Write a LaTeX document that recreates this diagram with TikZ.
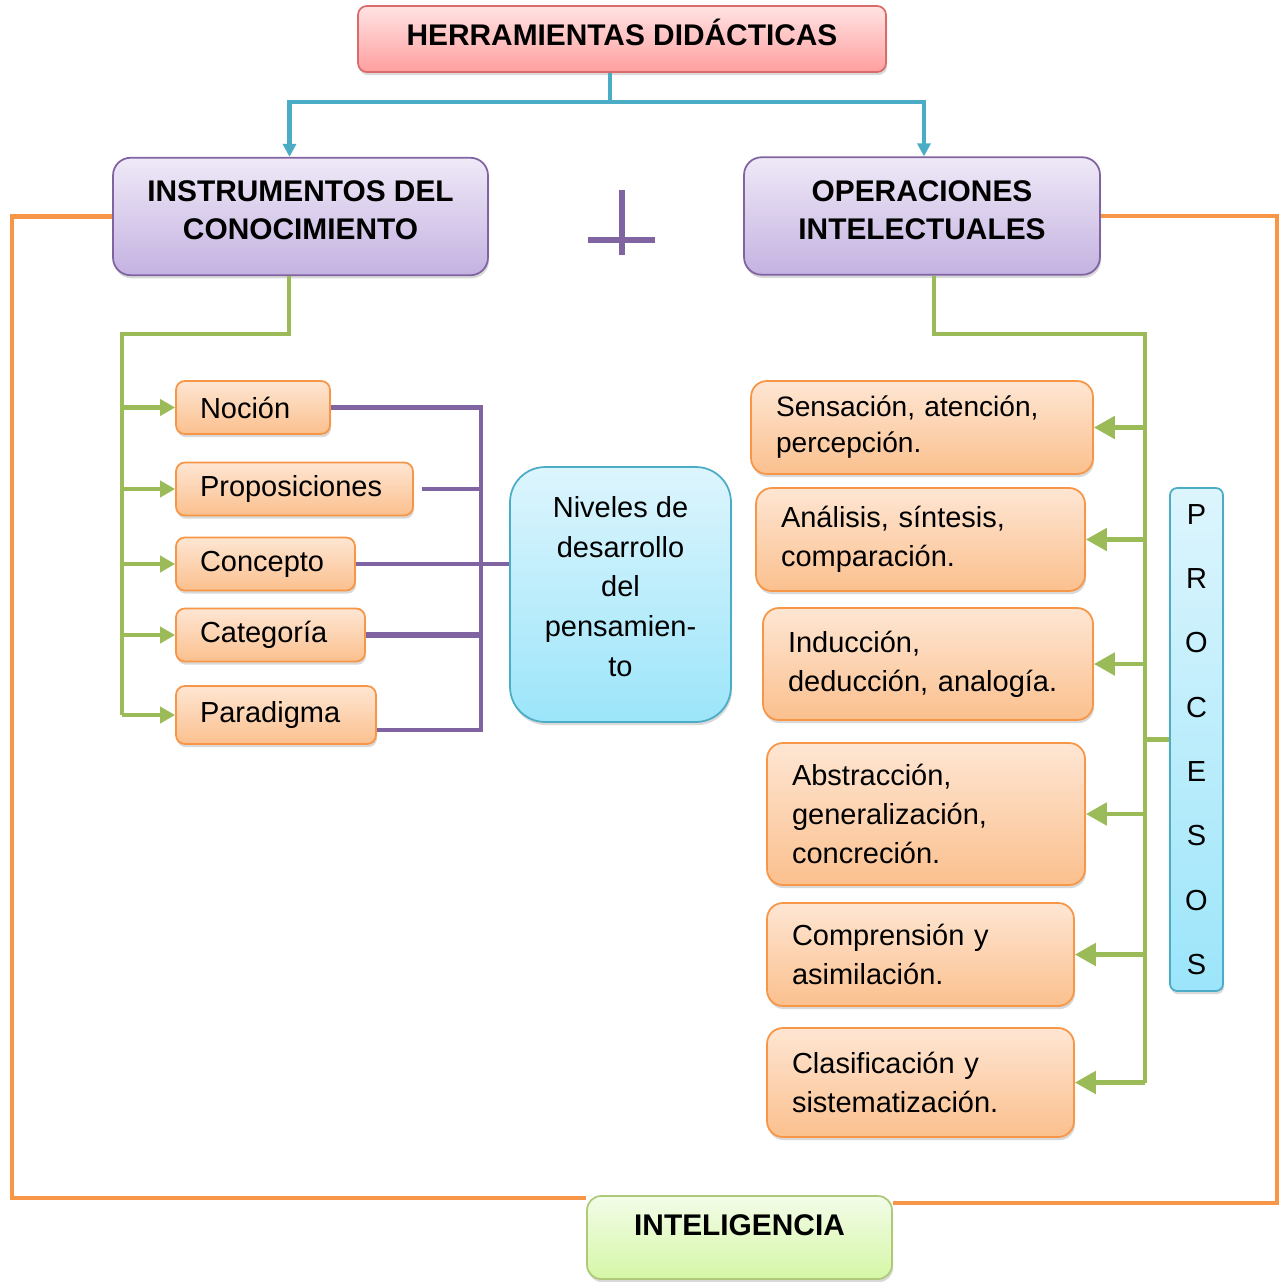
\documentclass[tikz,border=0pt]{standalone}
\usepackage{fontspec}
\setmainfont{Liberation Sans}
\usepackage{tikz}
\usetikzlibrary{arrows.meta, positioning, shadows}
\definecolor{orline}{HTML}{F79646}
\definecolor{ortop}{HTML}{FEE6D3}
\definecolor{orbot}{HTML}{FBC08E}
\definecolor{purline}{HTML}{8064A2}
\definecolor{purtop}{HTML}{EFE9F7}
\definecolor{purbot}{HTML}{C4B2E1}
\definecolor{redline}{HTML}{D96B6B}
\definecolor{redtop}{HTML}{FFE3E3}
\definecolor{redbot}{HTML}{FF9F9F}
\definecolor{bluline}{HTML}{4BACC6}
\definecolor{cyantop}{HTML}{DDF5FD}
\definecolor{cyanbot}{HTML}{9CE5FA}
\definecolor{grnline}{HTML}{9BBB59}
\definecolor{limetop}{HTML}{F3FCE8}
\definecolor{limebot}{HTML}{D5F7A6}

\begin{document}
\begin{tikzpicture}[x=0.02cm, y=-0.02cm,
    base/.style={rectangle, draw, line width=1pt, font=\fontsize{16.5}{22}\selectfont,
                 drop shadow={shadow xshift=0.6pt, shadow yshift=-1.8pt, opacity=0.3}},
    obox/.style={base, rounded corners=5pt, draw=orline, top color=ortop, bottom color=orbot,
                 align=left, inner xsep=0.48cm, minimum height=1.06cm},
    rbox/.style={obox, rounded corners=9pt, inner xsep=0.5cm},
    pbox/.style={base, rounded corners=10pt, draw=purline, top color=purtop, bottom color=purbot,
                 minimum height=2.35cm, align=center, font=\fontsize{17}{21.6}\selectfont\bfseries},
    hbox/.style={base, rounded corners=5pt, draw=redline, top color=redtop, bottom color=redbot,
                 minimum width=10.56cm, minimum height=1.32cm, text depth=0.25cm,
                 font=\fontsize{17}{20}\selectfont\bfseries},
    cbox/.style={base, draw=bluline, top color=cyantop, bottom color=cyanbot, align=center},
    gbox/.style={base, rounded corners=8pt, draw=grnline!80, top color=limetop, bottom color=limebot,
                 minimum width=6.1cm, minimum height=1.66cm, text depth=0.5cm,
                 font=\fontsize{17}{20}\selectfont\bfseries},
    barr/.style={-{Triangle[length=0.26cm, width=0.26cm]}, line width=2.3pt, bluline},
    grn/.style={line width=2.6pt, grnline},
    garr/.style={grn, -{Triangle[length=0.3cm, width=0.32cm]}},
    rarr/.style={grn, line width=2.8pt, -{Triangle[length=0.42cm, width=0.44cm]}},
    prp/.style={line width=2.4pt, purline},
    frm/.style={line width=2.8pt, orline}
]
\useasboundingbox (0,0) rectangle (1287,1281);

% top and the two branches
\node[hbox] (top) at (622,39) {HERRAMIENTAS DIDÁCTICAS};
\node[pbox, minimum width=7.5cm] (inst) at (300.5,216.5) {INSTRUMENTOS DEL\\CONOCIMIENTO\\[-0.52cm]};
\node[pbox, minimum width=7.12cm] (oper) at (922,216) {OPERACIONES\\INTELECTUALES\\[-0.52cm]};
\draw[barr] ([xshift=-0.24cm]top.south) -- ++(0,29) -| ([xshift=-0.22cm]inst.north);
\draw[barr] ([xshift=-0.24cm]top.south) -- ++(0,29) -| ([xshift=0.04cm]oper.north);

% plus sign
\draw[purline, line width=3.4pt] (622,190) -- (622,255) (588,240) -- (655,240);

% left column
\node[obox, text width=2.12cm] (noc) at (253,407.5) {Noción};
\node[obox, text width=3.78cm] (pro) at (294.5,489) {Proposiciones};
\node[obox, text width=2.62cm] (con) at (265.5,564) {Concepto};
\node[obox, text width=2.82cm] (cat) at (270.5,635) {Categoría};
\node[obox, text width=3.04cm, minimum height=1.16cm] (par) at (276,715) {Paradigma};
\node[cbox, rounded corners=20pt, minimum width=4.42cm, minimum height=5.1cm,
      font=\fontsize{16.5}{22.5}\selectfont] (niv) at (620.5,594.5)
      {Niveles de\\desarrollo\\del\\pensamien-\\to\\[-0.47cm]};

\coordinate (ltrunk) at (122,334);
\draw[grn] ([xshift=-0.23cm]inst.south) |- (ltrunk) -- (ltrunk |- par.west);
\foreach \n in {noc,pro,con,cat,par}
  \draw[garr] (ltrunk |- \n.west) -- (\n.west);

\coordinate (brb) at (481,730);
\draw[prp] (noc.east) -| (brb) -- (brb -| par.east);
\draw[prp] ([xshift=0.16cm]pro.east) -- (pro.east -| brb);
\draw[prp] (con.east) -- (con.east -| niv.west);
\draw[prp, line width=3.6pt] (cat.east) -- (cat.east -| brb);

% right column
\node[rbox, text width=5.84cm, minimum height=1.86cm, font=\fontsize{16}{20.5}\selectfont] (sen) at (922,427.5)
     {Sensación, atención,\\percepción.};
\node[rbox, text width=5.58cm, minimum height=2.06cm] (ana) at (920.5,539.5)
     {Análisis, síntesis,\\comparación.};
\node[rbox, text width=5.6cm, minimum height=2.24cm] (ind) at (928,664)
     {Inducción,\\deducción, analogía.};
\node[rbox, text width=5.36cm, minimum height=2.84cm] (abs) at (926,814)
     {Abstracción,\\generalización,\\concreción.};
\node[rbox, text width=5.14cm, minimum height=2.06cm] (com) at (920.5,954.5)
     {Comprensión y\\asimilación.};
\node[rbox, text width=5.14cm, minimum height=2.18cm] (cla) at (920.5,1082.5)
     {Clasificación y\\sistematización.};
\node[cbox, rounded corners=4pt, minimum width=1.06cm, minimum height=10.06cm,
      font=\fontsize{16.5}{36.6}\selectfont] (proc) at (1196.5,739.5)
      {P\\R\\O\\C\\E\\S\\O\\S};

\coordinate (rtrunk) at (1145,334);
\draw[grn, line width=2.8pt] ([xshift=0.24cm]oper.south) |- (rtrunk) -- (rtrunk |- cla.east);
\foreach \n in {sen,ana,ind,abs,com,cla}
  \draw[rarr] (rtrunk |- \n.east) -- (\n.east);
\draw[grn, line width=2.8pt] (proc.west) -- (proc.west -| rtrunk);

% bottom and frame
\node[gbox] (intel) at (739.5,1237.5) {INTELIGENCIA};
\coordinate (fl) at (12,1198);
\coordinate (fr) at (1277,1203);
\draw[frm] (inst.west) -| (fl) -- (fl -| intel.west);
\draw[frm] (oper.east) -| (fr) -- (fr -| intel.east);
\end{tikzpicture}
\end{document}
